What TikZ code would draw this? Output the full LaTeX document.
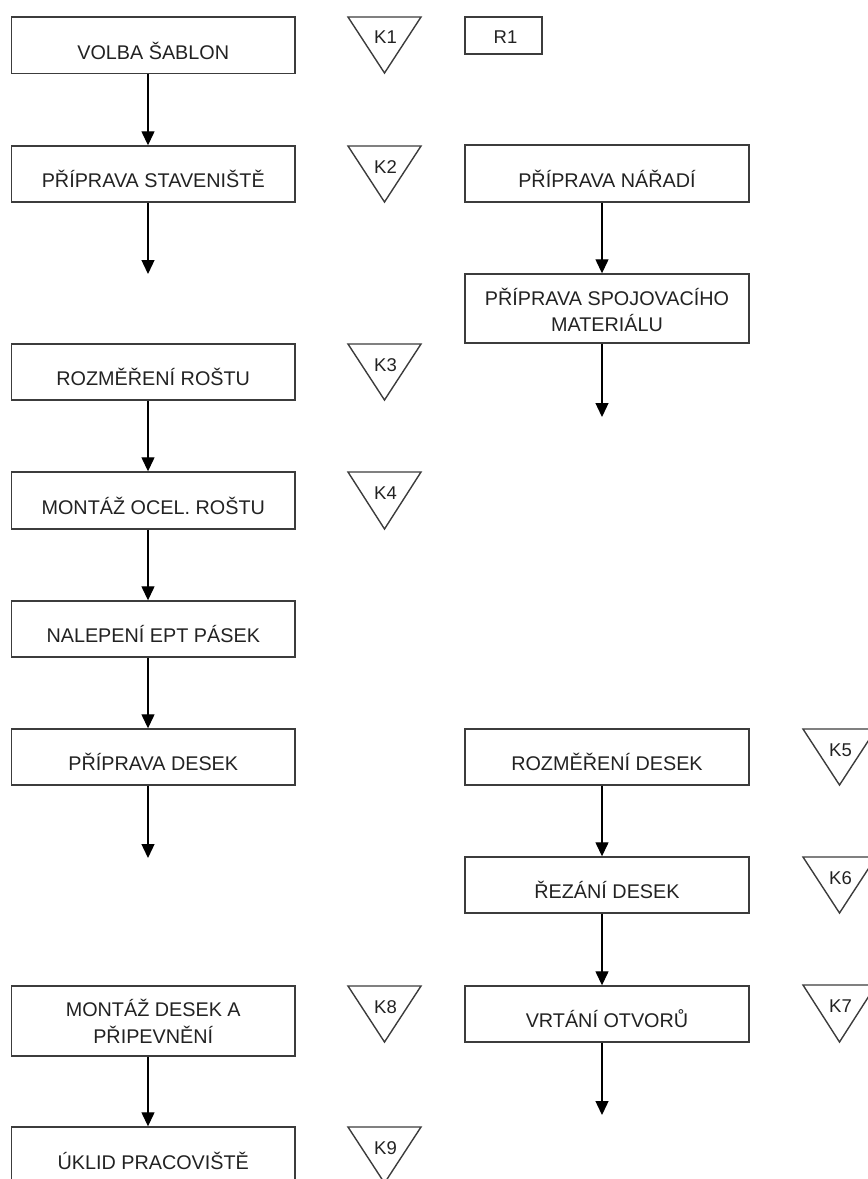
\documentclass[tikz,border=0pt]{standalone}
\usepackage{fontspec}
\setmainfont{Liberation Sans}
\usetikzlibrary{arrows.meta}
\definecolor{ln}{HTML}{3C3C3C}
\definecolor{tc}{HTML}{222222}
\begin{document}
\begin{tikzpicture}[x=1pt,y=-1pt,
  bx/.style={draw=ln,line width=1.4pt,rectangle,inner sep=0pt,minimum width=283.5pt},
  txt/.style={font=\fontsize{19.8}{24}\selectfont,inner sep=0pt,anchor=base,text=tc},
  ktxt/.style={font=\fontsize{18.5}{22}\selectfont,inner sep=0pt,anchor=base,text=tc},
  arr/.style={draw=black,line width=1.3pt,-{Triangle[length=14pt,width=13pt]}},
  tri/.style={draw=ln,line width=1.4pt,line join=miter}]
\useasboundingbox (0,0) rectangle (868,1179);

% ---------- left column boxes ----------
\node[bx,minimum height=56.5pt] (b1) at (153.25,45.25) {};
\node[txt] (t1) at ([yshift=-43.5pt]b1.north) {VOLBA ŠABLON};
\node[bx,minimum height=56pt] (b2) at (153.25,174) {};
\node[txt] (t2) at ([yshift=-42pt]b2.north) {PŘÍPRAVA STAVENIŠTĚ};
\node[bx,minimum height=56pt] (b3) at (153.25,372) {};
\node[txt] (t3) at ([yshift=-42pt]b3.north) {ROZMĚŘENÍ ROŠTU};
\node[bx,minimum height=57pt] (b4) at (153.25,500.5) {};
\node[txt] (t4) at ([yshift=-43pt]b4.north) {MONTÁŽ OCEL. ROŠTU};
\node[bx,minimum height=56pt] (b5) at (153.25,629) {};
\node[txt] (t5) at ([yshift=-42pt]b5.north) {NALEPENÍ EPT PÁSEK};
\node[bx,minimum height=56pt] (b6) at (153.25,757) {};
\node[txt] (t6) at ([yshift=-42pt]b6.north) {PŘÍPRAVA DESEK};
\node[bx,minimum height=70pt] (b7) at (153.25,1021) {};
\node[txt] (t7a) at ([yshift=-31pt]b7.north) {MONTÁŽ DESEK A};
\node[txt] (t7b) at ([yshift=-58pt]b7.north) {PŘIPEVNĚNÍ};
\node[bx,minimum height=57pt] (b8) at (153.25,1155.5) {};
\node[txt] (t8) at ([yshift=-43pt]b8.north) {ÚKLID PRACOVIŠTĚ};

% ---------- right column boxes ----------
\node[bx,minimum width=77pt,minimum height=37pt] (rr) at (503.5,35.5) {};
\node[ktxt] (rrt) at ([yshift=-27pt,xshift=2pt]rr.north) {R1};
\node[bx,minimum width=284pt,minimum height=57pt] (r1) at (607,173.5) {};
\node[txt] (s1) at ([yshift=-43pt]r1.north) {PŘÍPRAVA NÁŘADÍ};
\node[bx,minimum width=284pt,minimum height=69pt] (r2) at (607,308.5) {};
\node[txt] (s2a) at ([yshift=-32pt]r2.north) {PŘÍPRAVA SPOJOVACÍHO};
\node[txt] (s2b) at ([yshift=-58pt]r2.north) {MATERIÁLU};
\node[bx,minimum width=284pt,minimum height=56pt] (r3) at (607,757) {};
\node[txt] (s3) at ([yshift=-42pt]r3.north) {ROZMĚŘENÍ DESEK};
\node[bx,minimum width=284pt,minimum height=56pt] (r4) at (607,885) {};
\node[txt] (s4) at ([yshift=-42pt]r4.north) {ŘEZÁNÍ DESEK};
\node[bx,minimum width=284pt,minimum height=56pt] (r5) at (607,1014) {};
\node[txt] (s5) at ([yshift=-42pt]r5.north) {VRTÁNÍ OTVORŮ};

% ---------- arrows ----------
\coordinate (d2) at (148,274);
\coordinate (d6) at (148,858);
\coordinate (e2) at (602,417);
\coordinate (e5) at (602,1115);
\draw[arr] ([xshift=-5.25pt]b1.south) -- ([xshift=-5.25pt]b2.north);
\draw[arr] ([xshift=-5.25pt]b2.south) -- (d2);
\draw[arr] ([xshift=-5.25pt]b3.south) -- ([xshift=-5.25pt]b4.north);
\draw[arr] ([xshift=-5.25pt]b4.south) -- ([xshift=-5.25pt]b5.north);
\draw[arr] ([xshift=-5.25pt]b5.south) -- ([xshift=-5.25pt]b6.north);
\draw[arr] ([xshift=-5.25pt]b6.south) -- (d6);
\draw[arr] ([xshift=-5.25pt]b7.south) -- ([xshift=-5.25pt]b8.north);
\draw[arr] ([xshift=-5pt]r1.south) -- ([xshift=-5pt]r2.north);
\draw[arr] ([xshift=-5pt]r2.south) -- (e2);
\draw[arr] ([xshift=-5pt]r3.south) -- ([xshift=-5pt]r4.north);
\draw[arr] ([xshift=-5pt]r4.south) -- ([xshift=-5pt]r5.north);
\draw[arr] ([xshift=-5pt]r5.south) -- (e5);

% ---------- control triangles ----------
\draw[tri] (348,17) -- (421,17) -- (384.5,73) -- cycle;
\node[ktxt] (k1) at (385.5,43) {K1};
\draw[tri] (348,146) -- (421,146) -- (384.5,202) -- cycle;
\node[ktxt] (k2) at (385.5,173) {K2};
\draw[tri] (348,344) -- (421,344) -- (384.5,400) -- cycle;
\node[ktxt] (k3) at (385.5,371) {K3};
\draw[tri] (348,472) -- (421,472) -- (384.5,529) -- cycle;
\node[ktxt] (k4) at (385.5,499) {K4};
\draw[tri] (803,729) -- (876,729) -- (839.5,785) -- cycle;
\node[ktxt] (k5) at (840.5,756) {K5};
\draw[tri] (803,857) -- (876,857) -- (839.5,913) -- cycle;
\node[ktxt] (k6) at (840.5,884) {K6};
\draw[tri] (803,985) -- (876,985) -- (839.5,1042) -- cycle;
\node[ktxt] (k7) at (840.5,1012) {K7};
\draw[tri] (348,986) -- (421,986) -- (384.5,1042) -- cycle;
\node[ktxt] (k8) at (385.5,1013) {K8};
\draw[tri] (348,1127) -- (421,1127) -- (384.5,1183) -- cycle;
\node[ktxt] (k9) at (385.5,1154) {K9};
\end{tikzpicture}
\end{document}
